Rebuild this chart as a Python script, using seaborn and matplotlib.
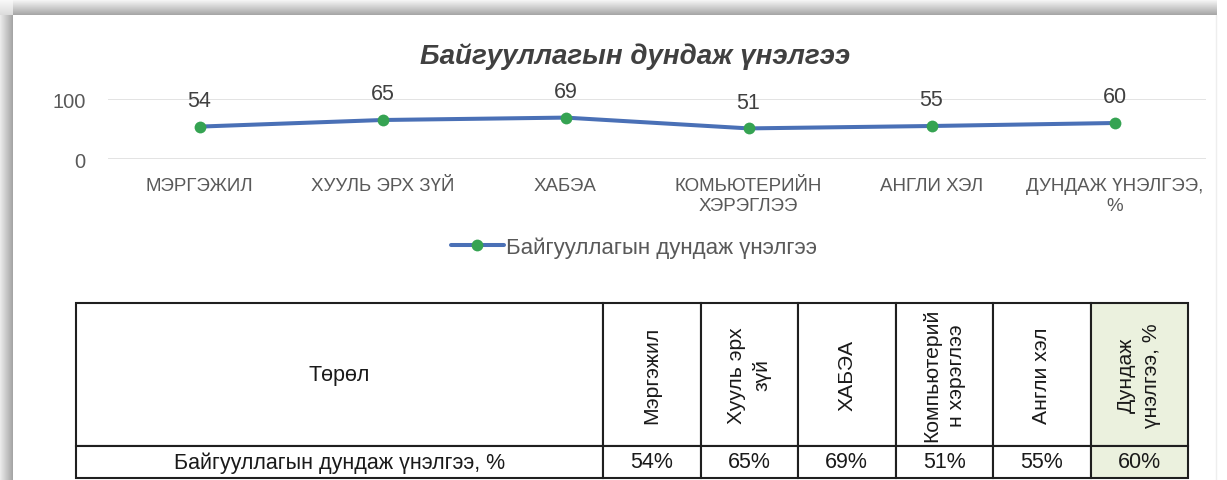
import numpy as np
import pandas as pd
import matplotlib
matplotlib.use("Agg")
import matplotlib.pyplot as plt
from matplotlib.colors import LinearSegmentedColormap
import seaborn as sns

# ---------------- data ----------------
title = "Байгууллагын дундаж үнэлгээ"
series_name = "Байгууллагын дундаж үнэлгээ"
categories = ["МЭРГЭЖИЛ", "ХУУЛЬ ЭРХ ЗҮЙ", "ХАБЭА", "КОМЬЮТЕРИЙН\nХЭРЭГЛЭЭ",
              "АНГЛИ ХЭЛ", "ДУНДАЖ ҮНЭЛГЭЭ,\n%"]
values = [54, 65, 69, 51, 55, 60]
yticks = [0, 100]
table_corner = "Төрөл"
table_headers = ["Мэргэжил", "Хууль эрх\nзүй", "ХАБЭА", "Компьютерий\nн хэрэглээ",
                 "Англи хэл", "Дундаж\nүнэлгээ, %"]
row_label = "Байгууллагын дундаж үнэлгээ, %"

# ---------------- style ----------------
sns.set_theme(style="white")
plt.rcParams["font.family"] = ["Liberation Sans", "DejaVu Sans"]

W, H = 1227, 481
fig = plt.figure(figsize=(W / 100, H / 100), dpi=100)
fig.patch.set_facecolor("white")

# background frame / shadow (screenshot decoration)
bg = fig.add_axes([0, 0, 1, 1], zorder=-10)
bg.set_xlim(0, W)
bg.set_ylim(H, 0)
bg.axis("off")
cm_top = LinearSegmentedColormap.from_list("t", ["#fbfbfb", "#a6a6a6"])
cm_left = LinearSegmentedColormap.from_list("l", ["#ececec", "#a4a4a4"])
bg.imshow(np.linspace(0, 1, 32)[:, None], cmap=cm_top, aspect="auto",
          extent=(13, 1217, 16, 0), interpolation="bilinear")
bg.imshow(np.linspace(0, 1, 32)[None, :], cmap=cm_left, aspect="auto",
          extent=(0, 13, H, 16), interpolation="bilinear")
bg.imshow(np.linspace(0, 1, 32)[:, None], cmap=LinearSegmentedColormap.from_list("c", ["#fbfbfb", "#dcdcdc"]),
          aspect="auto", extent=(0, 13, 16, 0), interpolation="bilinear")
bg.plot([1216, 1216], [16, H], color="#eeeeee", lw=1)

# ---------------- line chart ----------------
ax = fig.add_axes([108 / W, 1 - 160 / H, (1206 - 108) / W, 60 / H])
df = pd.DataFrame({"cat": categories, "val": values})
line_color = "#4a70b6"
marker_color = "#35a352"
sns.lineplot(data=df, x="cat", y="val", ax=ax, color=line_color, lw=2.9,
             marker="o", markersize=8.5, markerfacecolor=marker_color,
             markeredgecolor=marker_color, markeredgewidth=0, label=series_name,
             sort=False, clip_on=False, zorder=5)
ax.set_xlim(-0.5, len(categories) - 0.5)
ax.set_ylim(0, 100)
ax.set_yticks(yticks)
ax.set_yticklabels([str(t) for t in yticks])
for s in ax.spines.values():
    s.set_visible(False)
ax.grid(axis="y", color="#dedede", lw=1.2)
ax.grid(axis="x", visible=False)
ax.set_xlabel("")
ax.set_ylabel("")
ax.tick_params(axis="y", length=0, pad=16, labelsize=14.5, labelcolor="#595959")
ax.tick_params(axis="x", length=0, pad=13, labelsize=13.5, labelcolor="#595959")
for lab in ax.get_xticklabels():
    lab.set_linespacing(1.25)
ax.set_facecolor("none")

for i, v in enumerate(values):
    ax.annotate(str(v), (i, v), xytext=(0, 19), textcoords="offset points",
                ha="center", va="center", fontsize=15.5, color="#404040",
                annotation_clip=False)

fig.text(635 / W, 1 - 57 / H, title, ha="center", va="center", fontsize=20,
         fontweight="bold", fontstyle="italic", color="#404040")

leg = ax.legend(loc="center", bbox_to_anchor=(634 / W, 1 - 248 / H),
                bbox_transform=fig.transFigure, frameon=False, fontsize=16,
                handlelength=2.4, handletextpad=0.1, labelcolor="#595959")

# ---------------- table ----------------
tx0, tx1, ty0, ty1 = 76, 1188, 304, 479
tax = fig.add_axes([tx0 / W, 1 - ty1 / H, (tx1 - tx0) / W, (ty1 - ty0) / H])
tax.axis("off")
cell_text = [[table_corner] + table_headers,
             [row_label] + [f"{v}%" for v in values]]
first_w = 527
other_w = (tx1 - tx0 - first_w) / len(table_headers)
col_widths = [first_w] + [other_w] * len(table_headers)
tot = sum(col_widths)
tbl = tax.table(cellText=cell_text, colWidths=[w / tot for w in col_widths],
                cellLoc="center", loc="center", bbox=[0, 0, 1, 1])
tbl.auto_set_font_size(False)
row_h = {0: 143, 1: 32}
ncols = len(cell_text[0])
for (r, c), cell in tbl.get_celld().items():
    cell.set_height(row_h[r])
    cell.set_edgecolor("#1f1f1f")
    cell.set_linewidth(1.5)
    t = cell.get_text()
    t.set_color("#1a1a1a")
    t.set_fontsize(15.5)
    if r == 0 and c > 0:
        t.set_rotation(90)
        t.set_multialignment("center")
        t.set_fontsize(15.2)
        t.set_linespacing(1.4)
    if c == ncols - 1:
        cell.set_facecolor("#ebf1de")

fig.savefig("out.png", dpi=100, facecolor="white")
